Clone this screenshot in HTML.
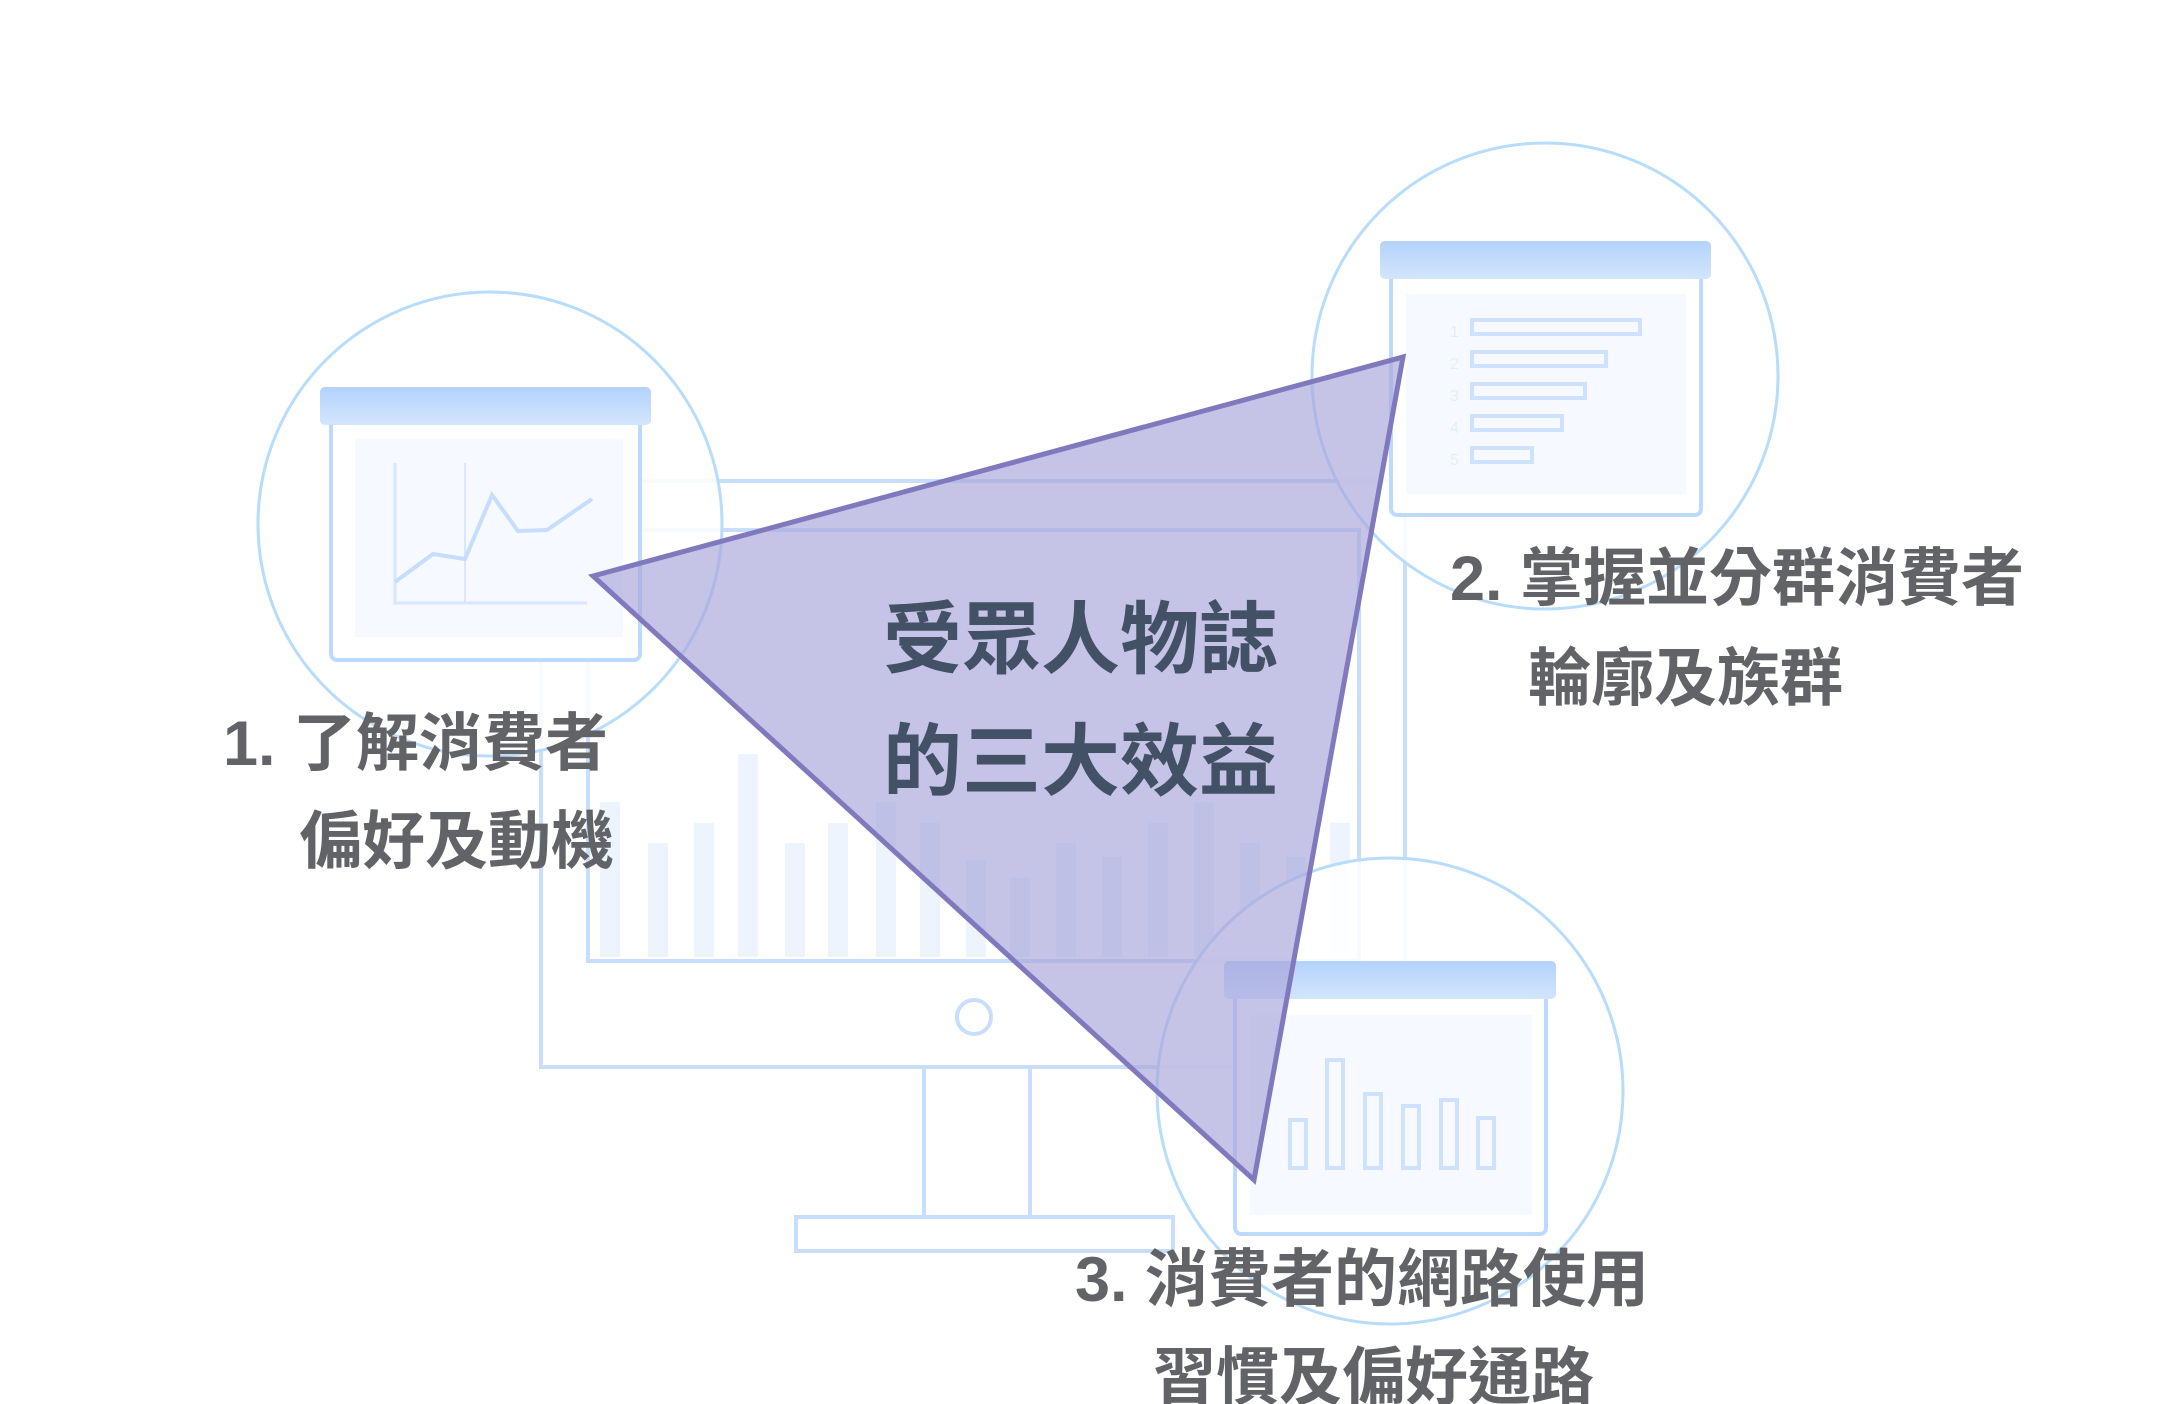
<!DOCTYPE html>
<html><head><meta charset="utf-8"><style>
html,body{margin:0;padding:0;background:#fff}
svg{display:block}
</style></head><body>
<svg width="2158" height="1404" viewBox="0 0 2158 1404" xmlns="http://www.w3.org/2000/svg">
<defs>
<linearGradient id="hg" x1="0" y1="0" x2="0" y2="1"><stop offset="0" stop-color="#b3d2fb"/><stop offset="1" stop-color="#d3e5fd"/></linearGradient>
</defs>
<!-- monitor -->
<g fill="none" stroke="#c9defc" stroke-width="4">
<rect x="541" y="481" width="864" height="586"/>
<rect x="588" y="530" width="771" height="431"/>
<circle cx="974" cy="1017" r="17"/>
<rect x="924" y="1067" width="106" height="150"/>
<rect x="796" y="1217" width="377" height="34"/>
</g>
<g fill="#edf4fe">
<rect x="600" y="802" width="20" height="155"/><rect x="648" y="843" width="20" height="114"/><rect x="694" y="823" width="20" height="134"/><rect x="738" y="754" width="20" height="203"/><rect x="785" y="843" width="20" height="114"/><rect x="828" y="823" width="20" height="134"/><rect x="876" y="802" width="20" height="155"/><rect x="920" y="823" width="20" height="134"/><rect x="966" y="860" width="20" height="97"/><rect x="1010" y="878" width="20" height="79"/><rect x="1056" y="843" width="20" height="114"/><rect x="1102" y="857" width="20" height="100"/><rect x="1148" y="823" width="20" height="134"/><rect x="1194" y="802" width="20" height="155"/><rect x="1240" y="843" width="20" height="114"/><rect x="1286" y="857" width="20" height="100"/><rect x="1330" y="823" width="20" height="134"/>
</g>
<!-- circle 1 -->
<circle cx="490" cy="524" r="232" fill="#fff" fill-opacity="0.85" stroke="#b7dcfc" stroke-width="3"/>
<rect x="331" y="420" width="309" height="240" rx="6" fill="#fff" stroke="#bcdafd" stroke-width="4"/>
<rect x="320" y="387" width="331" height="38" rx="5" fill="url(#hg)"/>
<rect x="355" y="439" width="268" height="198" fill="#f6f9ff"/>
<g stroke="#d8e7fd" stroke-width="3" fill="none">
<path d="M395 463 V603 H587"/><path d="M465 463 V603" stroke-width="2"/>
<path d="M395 582 L433 554 L465 559 L492 495 L518 531 L547 530 L592 499" stroke="#c6ddfd" stroke-width="4"/>
</g>
<!-- circle 2 -->
<circle cx="1545" cy="376" r="233" fill="#fff" fill-opacity="0.85" stroke="#b7dcfc" stroke-width="3"/>
<rect x="1391" y="268" width="310" height="247" rx="6" fill="#fff" stroke="#bcdafd" stroke-width="4"/>
<rect x="1380" y="241" width="331" height="38" rx="5" fill="url(#hg)"/>
<rect x="1406" y="294" width="280" height="200" fill="#f6f9ff"/>
<g fill="none" stroke="#cfe2fd" stroke-width="4">
<rect x="1472" y="320" width="168" height="14"/><rect x="1472" y="352" width="134" height="14"/><rect x="1472" y="384" width="113" height="14"/><rect x="1472" y="416" width="90" height="14"/><rect x="1472" y="448" width="60" height="14"/>
</g>
<g fill="#e3edfd" font-family="'Liberation Sans',sans-serif" font-size="16">
<text x="1450" y="337">1</text><text x="1450" y="369">2</text><text x="1450" y="401">3</text><text x="1450" y="433">4</text><text x="1450" y="465">5</text>
</g>
<!-- circle 3 -->
<circle cx="1390" cy="1091" r="233" fill="#fff" fill-opacity="0.85" stroke="#b7dcfc" stroke-width="3"/>
<rect x="1235" y="988" width="311" height="246" rx="6" fill="#fff" stroke="#bcdafd" stroke-width="4"/>
<rect x="1224" y="961" width="332" height="38" rx="5" fill="url(#hg)"/>
<rect x="1250" y="1015" width="282" height="200" fill="#f6f9ff"/>
<g fill="none" stroke="#cfe2fd" stroke-width="4">
<rect x="1290" y="1120" width="16" height="48"/><rect x="1327" y="1060" width="16" height="108"/><rect x="1365" y="1094" width="16" height="74"/><rect x="1403" y="1106" width="16" height="62"/><rect x="1441" y="1100" width="16" height="68"/><rect x="1478" y="1118" width="16" height="50"/>
</g>
<!-- triangle -->
<polygon points="593,576 1403,357 1254,1180" fill="#aaa6da" fill-opacity="0.68" stroke="#8179bd" stroke-width="5" stroke-linejoin="miter"/>
<g font-family="'Liberation Sans','Noto Sans CJK TC',sans-serif" font-weight="bold">
<text x="883" y="667" font-size="79" fill="#435166">受眾人物誌</text>
<text x="883" y="789" font-size="79" fill="#435166">的三大效益</text>
<g font-size="63" fill="#616367">
<text x="223" y="765">1. 了解消費者</text>
<text x="299" y="863">偏好及動機</text>
<text x="1450" y="600">2. 掌握並分群消費者</text>
<text x="1528" y="700">輪廓及族群</text>
<text x="1075" y="1301">3. 消費者的網路使用</text>
<text x="1153" y="1399">習慣及偏好通路</text>
</g>
</g>
</svg>
</body></html>
